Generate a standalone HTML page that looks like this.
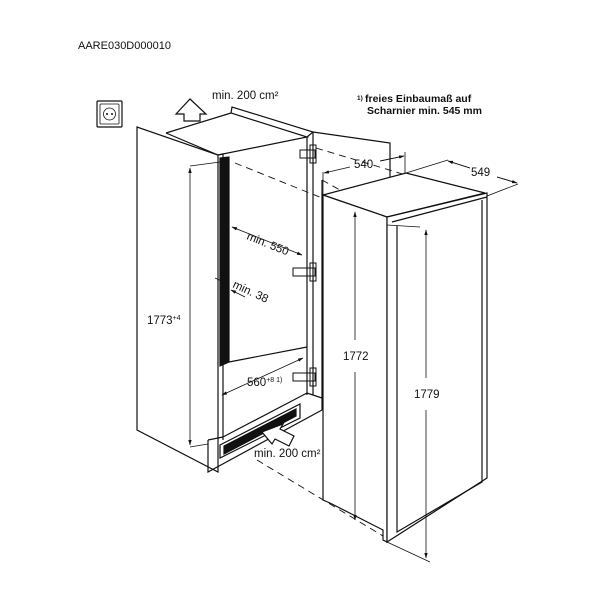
<!DOCTYPE html>
<html><head><style>
html,body{margin:0;padding:0;background:#fff;}
svg{display:block;}
text{font-family:"Liberation Sans",Arial,sans-serif;fill:#111;}
</style></head><body>
<svg width="600" height="600" viewBox="0 0 600 600" xmlns="http://www.w3.org/2000/svg">
<defs>
<marker id="a" viewBox="0 0 10 10" refX="9" refY="5" markerWidth="7" markerHeight="7" orient="auto-start-reverse"><path d="M0,2 L10,5 L0,8 z" fill="#111"/></marker>
</defs>
<rect width="600" height="600" fill="#fff"/>
<text x="78" y="49" font-size="11">AARE030D000010</text>
<text x="212" y="99" font-size="11.5">min. 200 cm²</text>
<text x="357" y="100" font-size="6.5" font-weight="bold">1)</text>
<text x="365" y="102" font-size="10.5" font-weight="bold">freies Einbaumaß auf</text>
<text x="367" y="114" font-size="10.5" font-weight="bold">Scharnier min. 545 mm</text>

<g fill="none" stroke="#111" stroke-width="1.2">
<rect x="97" y="101" width="25" height="26" rx="1"/>
<rect x="100" y="104" width="19" height="20" rx="1" stroke-width="0.8"/>
<circle cx="109.5" cy="114" r="6" stroke-width="0.8"/>
<circle cx="107" cy="114" r="1" fill="#111" stroke="none"/>
<circle cx="112" cy="114" r="1" fill="#111" stroke="none"/>
<path d="M190,99 L206,114 L200,114 L200,121 L184,121 L184,114 L176,114 Z" fill="#fff"/>
<path d="M137,127 L218,155 L218,472 L137,430 Z" fill="#fff"/>
<path d="M218,155 L223,154 L223,440"/>
<path d="M166,133 L218,155 L307,137 L231,113 L232,107 L313,132 L307,137"/>
<path d="M231,113 L166,133"/>
<path d="M307,137 L307,395"/>
<path d="M313,132 L313,395"/>
<path d="M313,132 L390,143 L390,178"/>
<path d="M220,158 L229,157 L229,362 L220,366 Z" fill="#111"/>
<path d="M229,362 L307,347"/>
<path d="M223,437 L307,393 L322,398"/>
<path d="M208,440 L223,437 M208,440 L208,472 L322,410"/>
<path d="M220,445 L300,404 L300,418 L220,458 Z"/>
<path d="M224,446 L296,409 L296,416 L224,454 Z" fill="#111"/>
<path d="M322,180 L322,410"/>
<path d="M262,432 L283,424 L280,429 L294,436 L289,446 L275,439 L272,444 Z" fill="#fff"/>
<path d="M300,150 L315,150 L315,158 L300,158 Z M310,145 L316,145 L316,163 L310,163 Z" stroke-width="1"/>
<path d="M293,268 L315,268 L315,276 L293,276 Z M310,263 L316,263 L316,281 L310,281 Z" stroke-width="1"/>
<path d="M293,373 L315,373 L315,381 L293,381 Z M310,368 L316,368 L316,386 L310,386 Z" stroke-width="1"/>
<path d="M323,195 L406,173 L485,193 L387,217 Z" fill="#fff"/>
<path d="M323,195 L387,217 L387,542 L383,540 L383,530 L330,503 L323,500 Z" fill="#fff"/>
<path d="M387,217 L487,193 L487,478 L387,542 Z" fill="#fff"/>
<path d="M392,222 L487,197 M397,226 L397,532 L482,482 L482,200"/>
</g>
<g fill="none" stroke="#111" stroke-width="0.9" stroke-dasharray="7,5">
<path d="M235,163 L322,198"/>
<path d="M316,148 L406,175"/>
<path d="M257,460 L383,536"/>
<path d="M322,180 L340,190"/>
</g>
<g fill="none" stroke="#111" stroke-width="0.8">
<path d="M190,168 L190,445" marker-start="url(#a)" marker-end="url(#a)"/>
<path d="M190,166 L220,162 M190,447 L208,444"/>
<path d="M232,227 L302,255" marker-start="url(#a)" marker-end="url(#a)"/>
<path d="M215,278 L228,284" marker-end="url(#a)"/>
<path d="M245,297 L231,290" marker-end="url(#a)"/>
<path d="M222,395 L303,358" marker-start="url(#a)" marker-end="url(#a)"/>
<path d="M324,173 L350,167 M380,161 L404,156" marker-start="url(#a)"/>
<path d="M380,161 L404,156" marker-end="url(#a)"/>
<path d="M323,172 L323,195 M405,152 L405,173"/>
<path d="M448,161 L470,168 M497,177 L517,183"/>
<path d="M448,161 L470,168" marker-start="url(#a)"/>
<path d="M497,177 L517,183" marker-end="url(#a)"/>
<path d="M406,173 L448,160 M487,196 L518,184"/>
<path d="M355,212 L355,340" marker-start="url(#a)"/>
<path d="M355,372 L355,520" marker-end="url(#a)"/>
<path d="M426,230 L426,378" marker-start="url(#a)"/>
<path d="M426,410 L426,558" marker-end="url(#a)"/>
<path d="M387,542 L430,562 M420,227 L387,225"/>
</g>
<text x="246" y="239" font-size="11.5" transform="rotate(22 246 239)">min. 550</text>
<text x="232" y="287" font-size="11.5" transform="rotate(25 232 287)">min. 38</text>
<text x="147" y="324" font-size="11.5">1773<tspan font-size="7" dy="-4">+4</tspan></text>
<text x="247" y="386" font-size="11.5">560<tspan font-size="7" dy="-4">+8 1)</tspan></text>
<text x="254" y="457" font-size="11.5">min. 200 cm²</text>
<text x="354" y="168" font-size="11.5">540</text>
<text x="471" y="176" font-size="11.5">549</text>
<text x="343" y="360" font-size="11.5">1772</text>
<text x="414" y="398" font-size="11.5">1779</text>
</svg>
</body></html>
